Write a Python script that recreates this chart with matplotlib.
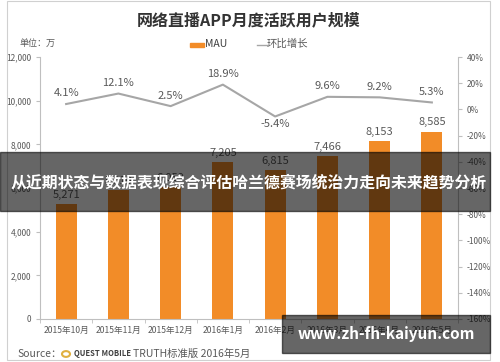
import matplotlib.pyplot as plt
from matplotlib.patches import Rectangle, Circle
from matplotlib.ticker import FuncFormatter, FixedLocator

plt.rcParams['font.family'] = ['Noto Sans CJK SC', 'DejaVu Sans']

# data
months = ['2015年10月', '2015年11月', '2015年12月', '2016年1月',
          '2016年2月', '2016年3月', '2016年4月', '2016年5月']
mau = [5271, 5910, 6059, 7205, 6815, 7466, 8153, 8585]
growth = [4.1, 12.1, 2.5, 18.9, -5.4, 9.6, 9.2, 5.3]

W, H = 500, 362
fig = plt.figure(figsize=(W / 100, H / 100), dpi=100)

def fx(px):
    return px / W

def fy(py):
    return 1 - py / H

ax1 = fig.add_axes([fx(40), fy(319), fx(458) - fx(40), fy(57) - fy(319)])
x = list(range(len(months)))

ax1.bar(x, mau, width=0.4, color='#F28C28', zorder=2)
for xi, v in zip(x, mau):
    ax1.annotate('{:,}'.format(v), (xi, v), xytext=(0, 3), textcoords='offset points',
                 ha='center', va='bottom', fontsize=8, color='#595959')

ax1.set_xlim(-0.5, len(months) - 0.5)
ax1.set_ylim(0, 12000)
ax1.set_yticks(range(0, 12001, 2000))
ax1.yaxis.set_major_formatter(FuncFormatter(lambda v, p: '{:,.0f}'.format(v)))
ax1.set_xticks(x)
ax1.set_xticklabels(months, fontsize=6.2, color='#595959')
ax1.xaxis.set_minor_locator(FixedLocator([i - 0.5 for i in range(len(months) + 1)]))
ax1.tick_params(axis='x', which='major', length=0, pad=5)
ax1.tick_params(axis='x', which='minor', length=3, color='#BFBFBF')
ax1.tick_params(axis='y', labelsize=6, labelcolor='#595959', length=3, color='#BFBFBF')
for s in ['top', 'right']:
    ax1.spines[s].set_visible(False)
for s in ['left', 'bottom']:
    ax1.spines[s].set_color('#BFBFBF')

ax2 = ax1.twinx()
ax2.plot(x, growth, color='#A6A6A6', linewidth=1.5, zorder=3)
for xi, g in zip(x, growth):
    if g < 0:
        ax2.annotate('{:.1f}%'.format(g), (xi, g), xytext=(0, -2), textcoords='offset points',
                     ha='center', va='top', fontsize=8, color='#595959')
    else:
        ax2.annotate('{:.1f}%'.format(g), (xi, g), xytext=(0, 4), textcoords='offset points',
                     ha='center', va='bottom', fontsize=8, color='#595959')
ax2.set_ylim(-160, 40)
ax2.set_yticks(range(-160, 41, 20))
ax2.yaxis.set_major_formatter(FuncFormatter(lambda v, p: '%d%%' % v))
ax2.tick_params(axis='y', labelsize=6, labelcolor='#595959', length=3, color='#BFBFBF')
for s in ['top', 'left', 'bottom']:
    ax2.spines[s].set_visible(False)
ax2.spines['right'].set_color('#BFBFBF')

# title, legend, unit
fig.text(fx(249), fy(20), '网络直播APP月度活跃用户规模', ha='center', va='center',
         fontsize=11.5, fontweight='bold', color='#333333')
fig.text(fx(20), fy(43), '单位：万', ha='left', va='center', fontsize=6.5, color='#595959')
fig.add_artist(Rectangle((fx(190), fy(47)), fx(14), fy(43) - fy(47),
                         transform=fig.transFigure, color='#F28C28'))
fig.text(fx(205), fy(44), 'MAU', ha='left', va='center', fontsize=7.5, color='#404040')
fig.add_artist(plt.Line2D([fx(257), fx(267)], [fy(45), fy(45)], transform=fig.transFigure,
                          color='#A6A6A6', linewidth=1))
fig.text(fx(267), fy(44), '环比增长', ha='left', va='center', fontsize=7.5, color='#595959')

# source line
fig.text(fx(17), fy(354), 'Source：', ha='left', va='center', fontsize=7.5, color='#595959')
fig.add_artist(Circle((fx(66), fy(354)), fx(4), transform=fig.transFigure,
                      facecolor='none', edgecolor='#E0B040', linewidth=1.5))
fig.text(fx(74), fy(354), 'QUEST MOBILE', ha='left', va='center', fontsize=5.5,
         fontweight='bold', color='#404040')
fig.text(fx(133), fy(354), 'TRUTH标准版 2016年5月', ha='left', va='center',
         fontsize=7.5, color='#595959')

# image frame
fig.add_artist(Rectangle((fx(7), fy(360)), fx(490) - fx(7), fy(1) - fy(360),
                         transform=fig.transFigure, facecolor='none',
                         edgecolor='#D0D0D0', linewidth=0.8))

# overlay banners
fig.add_artist(Rectangle((0, fy(211)), fx(490), fy(152) - fy(211),
                         transform=fig.transFigure, color='black', alpha=0.6, zorder=10))
fig.text(fx(249), fy(182), '从近期状态与数据表现综合评估哈兰德赛场统治力走向未来趋势分析',
         ha='center', va='center', fontsize=11.4, fontweight='bold', color='white', zorder=11)
fig.add_artist(Rectangle((fx(282), fy(353)), fx(490) - fx(282), fy(315) - fy(353),
                         transform=fig.transFigure, color='black', alpha=0.6, zorder=10))
fig.text(fx(386), fy(334), 'www.zh-fh-kaiyun.com', ha='center', va='center',
         fontsize=11, fontweight='bold', color='white', zorder=11)

fig.savefig('out.png', dpi=100)
